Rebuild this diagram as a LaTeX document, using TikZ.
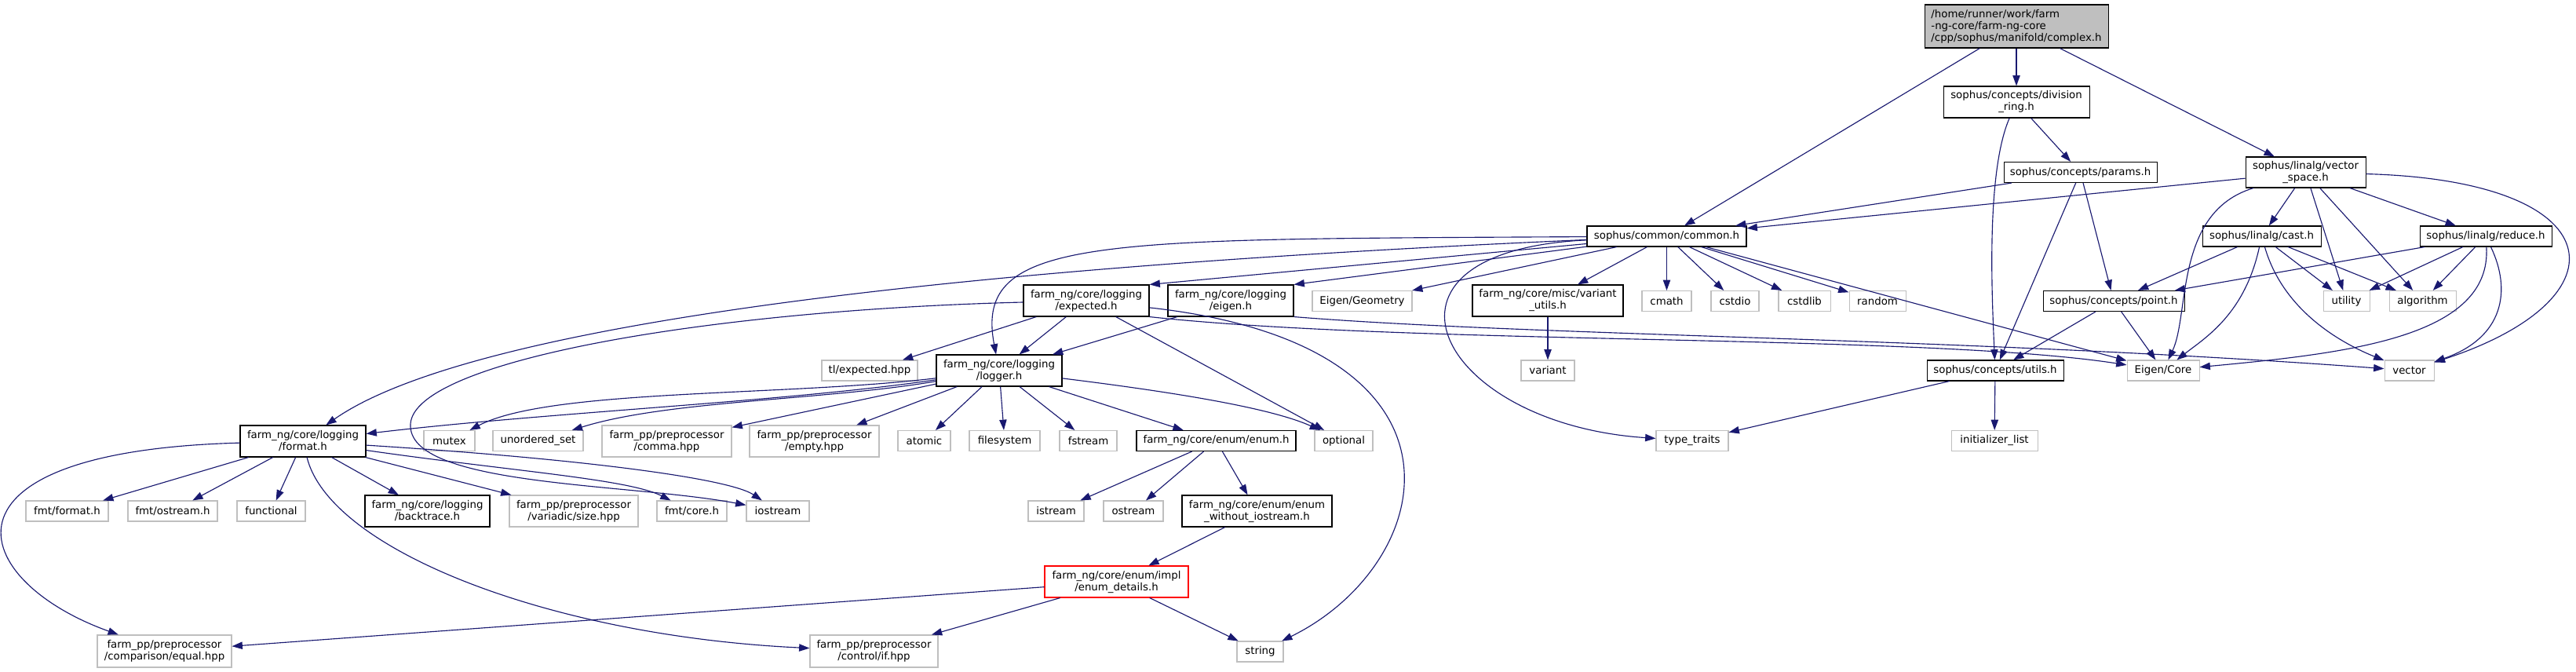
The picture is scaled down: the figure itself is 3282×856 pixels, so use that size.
\documentclass[tikz,border=0pt]{standalone}
\usepackage{fontspec}
\setmainfont{DejaVu Sans}
\usetikzlibrary{arrows.meta}

\definecolor{edgeblue}{HTML}{191970}
\definecolor{sysgray}{HTML}{BFBFBF}

\tikzset{
  incbox/.style={draw, line width=0.8pt, fill=white, align=center,
                 inner sep=1pt, font=\fontsize{10}{11.25}\selectfont},
  hdr/.style={incbox, draw=black},
  sys/.style={incbox, draw=sysgray},
  root/.style={incbox, draw=black, fill=sysgray, align=left},
  trunc/.style={incbox, draw=red},
  wh/.style 2 args={minimum width=#1*0.75pt, minimum height=#2*0.75pt},
  dep/.style={->, draw=edgeblue, line width=0.85pt}
}

\begin{document}
\begin{tikzpicture}[
    x=0.75pt, y=-0.75pt,
    >={Triangle[length=10pt, width=7pt]}
  ]
  \useasboundingbox (0,0) rectangle (3282,856);

  % Top of the graph
  \node[root, wh={234}{55}] (complex) at (2569,33.5)
    {/home/runner/work/farm\\-ng-core/farm-ng-core\\/cpp/sophus/manifold/complex.h};
  \node[hdr, wh={186}{40}] (divring) at (2569,130) {sophus/concepts/division\\\_ring.h};
  \node[hdr, wh={195}{26}] (params) at (2650.5,219.5) {sophus/concepts/params.h};
  \node[hdr, wh={153}{39}] (vspace) at (2937.5,219.5) {sophus/linalg/vector\\\_space.h};
  \node[hdr, wh={203}{26}] (common) at (2123.5,301) {sophus/common/common.h};
  \node[hdr, wh={151}{26}] (cast) at (2881.5,301) {sophus/linalg/cast.h};
  \node[hdr, wh={168}{26}] (reduce) at (3167,301) {sophus/linalg/reduce.h};

  % Row below common.h
  \node[hdr, wh={160}{40}] (expected) at (1384,383) {farm\_ng/core/logging\\/expected.h};
  \node[hdr, wh={160}{40}] (eigen) at (1568,383) {farm\_ng/core/logging\\/eigen.h};
  \node[sys, wh={127}{26}] (egeom) at (1735.5,383.5) {Eigen/Geometry};
  \node[hdr, wh={192}{40}] (varutils) at (1972,383) {farm\_ng/core/misc/variant\\\_utils.h};
  \node[sys, wh={63}{26}] (cmath) at (2123.5,383.5) {cmath};
  \node[sys, wh={61}{26}] (cstdio) at (2210.5,383.5) {cstdio};
  \node[sys, wh={66}{26}] (cstdlib) at (2299,383.5) {cstdlib};
  \node[sys, wh={72}{26}] (random) at (2392,383.5) {random};
  \node[hdr, wh={180}{26}] (point) at (2693,383.5) {sophus/concepts/point.h};
  \node[sys, wh={59}{26}] (utility) at (2989.5,383.5) {utility};
  \node[sys, wh={85}{26}] (algorithm) at (3086.5,383.5) {algorithm};

  \node[sys, wh={122}{26}] (tlexp) at (1108,472) {tl/expected.hpp};
  \node[hdr, wh={160}{40}] (logger) at (1273,472) {farm\_ng/core/logging\\/logger.h};
  \node[sys, wh={68}{26}] (variant) at (1972,472) {variant};
  \node[hdr, wh={174}{26}] (utils) at (2542,472) {sophus/concepts/utils.h};
  \node[sys, wh={92}{26}] (ecore) at (2756,472) {Eigen/Core};
  \node[sys, wh={63}{26}] (vector) at (3069.5,472) {vector};

  % Headers of logger.h
  \node[hdr, wh={160}{40}] (format) at (386,562) {farm\_ng/core/logging\\/format.h};
  \node[sys, wh={65}{26}] (mutex) at (572.5,561.5) {mutex};
  \node[sys, wh={115}{26}] (uset) at (685.5,561.5) {unordered\_set};
  \node[sys, wh={165}{40}] (comma) at (849.5,562) {farm\_pp/preprocessor\\/comma.hpp};
  \node[sys, wh={165}{40}] (empty) at (1037.5,562) {farm\_pp/preprocessor\\/empty.hpp};
  \node[sys, wh={67}{26}] (atomic) at (1177.5,561.5) {atomic};
  \node[sys, wh={90}{26}] (filesystem) at (1280,561.5) {filesystem};
  \node[sys, wh={73}{26}] (fstream) at (1386.5,561.5) {fstream};
  \node[hdr, wh={203}{26}] (enum) at (1549.5,561.5) {farm\_ng/core/enum/enum.h};
  \node[sys, wh={74}{26}] (optional) at (1712,561.5) {optional};
  \node[sys, wh={92}{26}] (ttraits) at (2156,561.5) {type\_traits};
  \node[sys, wh={110}{26}] (initlist) at (2541,561.5) {initializer\_list};

  % Headers of format.h and enum.h
  \node[sys, wh={105}{26}] (fmtformat) at (85.5,651) {fmt/format.h};
  \node[sys, wh={114}{26}] (fmtostream) at (220,651) {fmt/ostream.h};
  \node[sys, wh={87}{26}] (functional) at (345.5,651) {functional};
  \node[hdr, wh={159}{40}] (backtrace) at (544.5,651) {farm\_ng/core/logging\\/backtrace.h};
  \node[sys, wh={164}{40}] (vsize) at (731,651) {farm\_pp/preprocessor\\/variadic/size.hpp};
  \node[sys, wh={89}{26}] (fmtcore) at (881.5,651) {fmt/core.h};
  \node[sys, wh={80}{26}] (iostream) at (991,651) {iostream};
  \node[sys, wh={71}{26}] (istream) at (1345.5,651) {istream};
  \node[sys, wh={76}{26}] (ostream) at (1444,651) {ostream};
  \node[hdr, wh={191}{40}] (enumwo) at (1601.5,651) {farm\_ng/core/enum/enum\\\_without\_iostream.h};
  \node[trunc, wh={183}{40}] (enumdet) at (1422.5,741) {farm\_ng/core/enum/impl\\/enum\_details.h};
  \node[sys, wh={171}{41}] (equal) at (209.5,829.5) {farm\_pp/preprocessor\\/comparison/equal.hpp};
  \node[sys, wh={163}{41}] (ifhpp) at (1113.5,829.5) {farm\_pp/preprocessor\\/control/if.hpp};
  \node[sys, wh={59}{26}] (string) at (1605.5,830) {string};

  % complex.h, division_ring.h, params.h
  \draw[dep] (complex) -- (common);
  \draw[dep] (complex) -- (divring);
  \draw[dep] (complex) -- (vspace);
  \draw[dep] (divring) -- (params);
  \draw[dep] (divring) .. controls (2530,220) and (2538,380) .. (utils);
  \draw[dep] (params) -- (common);
  \draw[dep] (params) -- (point);
  \draw[dep] (params) -- (utils);

  % vector_space.h, cast.h, reduce.h
  \draw[dep] (vspace) -- (common);
  \draw[dep] (vspace) -- (cast);
  \draw[dep] (vspace) -- (utility);
  \draw[dep] (vspace) -- (algorithm);
  \draw[dep] (vspace) -- (reduce);
  \draw[dep] (vspace) .. controls (3330,230) and (3350,380) .. (vector);
  \draw[dep] (vspace) .. controls (2770,270) and (2790,400) .. (ecore);
  \draw[dep] (cast) -- (point);
  \draw[dep] (cast) -- (utility);
  \draw[dep] (cast) -- (algorithm);
  \draw[dep] (cast) .. controls (2860,400) and (2810,430) .. (ecore);
  \draw[dep] (cast) .. controls (2910,400) and (2990,440) .. (vector);
  \draw[dep] (reduce) -- (point);
  \draw[dep] (reduce) -- (utility);
  \draw[dep] (reduce) -- (algorithm);
  \draw[dep] (reduce) .. controls (3175,430) and (2990,450) .. (ecore);
  \draw[dep] (reduce) .. controls (3200,370) and (3190,430) .. (vector);
  \draw[dep] (point) -- (utils);
  \draw[dep] (point) -- (ecore);
  \draw[dep] (utils) -- (ttraits);
  \draw[dep] (utils) -- (initlist);

  % common.h
  \draw[dep] (common) .. controls (1000,350) and (560,440) .. (format);
  \draw[dep] (common) .. controls (1400,305) and (1240,300) .. (logger);
  \draw[dep] (common) -- (expected.north east);
  \draw[dep] (common) -- (eigen.north east);
  \draw[dep] (common) -- (egeom);
  \draw[dep] (common) -- (varutils);
  \draw[dep] (common) -- (cmath);
  \draw[dep] (common) -- (cstdio);
  \draw[dep] (common) -- (cstdlib);
  \draw[dep] (common) -- (random);
  \draw[dep] (common) -- (ecore);
  \draw[dep] (common) .. controls (1720,320) and (1830,540) .. (ttraits);
  \draw[dep] (varutils) -- (variant);

  % expected.h, eigen.h
  \draw[dep] (expected) -- (tlexp);
  \draw[dep] (expected) -- (logger);
  \draw[dep] (expected) -- (optional);
  \draw[dep] (expected) .. controls (900,395) and (528,460) .. (523,540)
                        .. controls (518,620) and (800,615) .. (iostream);
  \draw[dep] (expected) .. controls (1900,440) and (1830,720) .. (string);
  \draw[dep] (expected.south east) .. controls (1800,440) and (2450,425) .. (ecore);
  \draw[dep] (eigen) -- (logger);
  \draw[dep] (eigen.south east) .. controls (1950,428) and (2500,430) .. (vector);

  % logger.h
  \draw[dep] (logger) .. controls (1000,512) and (700,525) .. (format);
  \draw[dep] (logger) .. controls (1000,505) and (700,495) .. (mutex);
  \draw[dep] (logger) .. controls (1050,510) and (850,510) .. (uset);
  \draw[dep] (logger) -- (comma);
  \draw[dep] (logger) -- (empty);
  \draw[dep] (logger) -- (atomic);
  \draw[dep] (logger) -- (filesystem);
  \draw[dep] (logger) -- (fstream);
  \draw[dep] (logger) -- (enum);
  \draw[dep] (logger) .. controls (1500,500) and (1620,520) .. (optional);

  % format.h
  \draw[dep] (format) -- (fmtformat);
  \draw[dep] (format) -- (fmtostream);
  \draw[dep] (format) -- (functional);
  \draw[dep] (format) -- (backtrace);
  \draw[dep] (format) -- (vsize);
  \draw[dep] (format) .. controls (650,600) and (800,610) .. (fmtcore);
  \draw[dep] (format) .. controls (750,585) and (930,610) .. (iostream);
  \draw[dep] (format) .. controls (-100,575) and (-40,740) .. (equal);
  \draw[dep] (format) .. controls (420,700) and (700,810) .. (ifhpp);

  % enum.h
  \draw[dep] (enum) -- (istream);
  \draw[dep] (enum) -- (ostream);
  \draw[dep] (enum) -- (enumwo);
  \draw[dep] (enumwo) -- (enumdet);
  \draw[dep] (enumdet) -- (equal);
  \draw[dep] (enumdet) -- (ifhpp);
  \draw[dep] (enumdet) -- (string);
\end{tikzpicture}
\end{document}
